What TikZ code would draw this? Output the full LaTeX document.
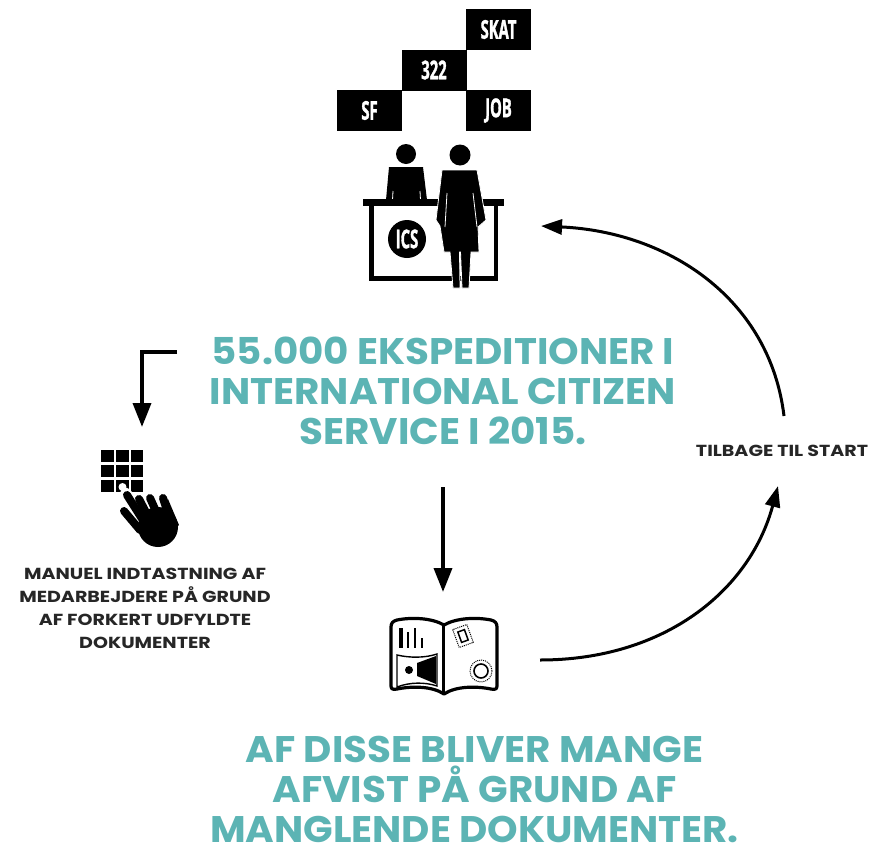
\documentclass[tikz,border=0pt]{standalone}
\usepackage{fontspec}
\setmainfont{Poppins}
\newfontfamily\headfont[FakeStretch=1.05]{Poppins}
\newfontfamily\labelfont[FakeStretch=1.19]{Poppins}
\newfontfamily\narrowfont[FakeStretch=0.57,BoldFeatures={FakeBold=1.2}]{Open Sans}
\usetikzlibrary{arrows.meta}
\definecolor{headteal}{HTML}{5CB4B4}
\tikzset{
  headline/.style={text=headteal,align=center,inner sep=0pt,font=\headfont\fontsize{37}{40}\selectfont\bfseries},
  smalllabel/.style={align=center,inner sep=0pt,text=black!85,font=\labelfont\fontsize{16}{23}\selectfont\bfseries},
  office/.style={fill=black,text=white,inner sep=0pt,minimum width=65pt,minimum height=41pt,font=\narrowfont\fontsize{26}{28}\selectfont\bfseries},
  flow/.style={line width=3.6pt,-{Triangle[width=18pt,length=24pt]}},
  thinflow/.style={line width=3pt,-{Triangle[width=15pt,length=21pt]}}
}
\begin{document}
\begin{tikzpicture}
    [x=1pt,y=-1pt]
    \useasboundingbox (0,0) rectangle (869,846);
    % offices
    \node (skat) at (498.5,29.5) [office] {SKAT};
    \node (nr322) at (434,70) [office] {322};
    \node (sf) at (369.5,110.5) [office] {SF};
    \node (job) at (498.5,110.5) [office] {JOB};
    % desk with clerk and citizen
    \fill (406,154) circle (10pt);
    \fill (389,167) -- (423,167) -- (427,200) -- (386,200) -- cycle;
    \draw [white,line width=.8pt] (393,191) -- (392.5,200) (420,191) -- (420.5,200);
    \fill (363,199) rectangle (504,206);
    \draw [line width=4.5pt] (371.5,206) -- (371.5,278.5) -- (496,278.5) -- (496,206);
    \node (ics) at (407,239) [circle,fill=black,text=white,inner sep=0pt,minimum size=38pt,font=\narrowfont\fontsize{26}{28}\selectfont\bfseries] {ICS};
    \fill (460,155) circle (10.5pt);
    \fill [draw=white,line width=.8pt] (442,170) -- (477,170) -- (486,220) -- (478,227) -- (479,252)
      -- (471,252) -- (469,288) -- (462,288) -- (460.5,252) -- (459.5,252) -- (460,288) -- (453,288) -- (450,252)
      -- (444,252) -- (440,226) -- (436,220) -- cycle;
    \draw [white,line width=.8pt] (447,193) -- (445,227) (473,193) -- (477,227);
    % headlines
    \node (ekspeditioner) at (443,391) [headline] {55.000 EKSPEDITIONER I\\INTERNATIONAL CITIZEN\\SERVICE I 2015.};
    \node (afvist) at (474.5,789) [headline] {AF DISSE BLIVER MANGE\\AFVIST PÅ GRUND AF\\MANGLENDE DOKUMENTER.};
    \node (manuel) at (145,608) [smalllabel] {MANUEL INDTASTNING AF\\MEDARBEJDERE PÅ GRUND\\AF FORKERT UDFYLDTE\\DOKUMENTER};
    \node (tilbage) at (782,451) [smalllabel] {TILBAGE TIL START};
    % keypad
    \foreach \kx in {101.3,116.3,131}
      \foreach \ky in {450,465,480}
        \fill (\kx,\ky) rectangle +(12.2,12);
    \fill [white] (122.5,487) circle (4pt);
    % hand
    \draw [white,line width=12pt,line cap=round] (126,494) -- (146,525);
    \draw [line width=8pt,line cap=round] (127,495) -- (146,525);
    \draw [line width=8pt,line cap=round] (139,499) -- (150,520);
    \draw [line width=8pt,line cap=round] (150,498) -- (160,520);
    \draw [line width=8pt,line cap=round] (163,498) -- (170,520);
    \draw [line width=8pt,line cap=round] (124,511) -- (140,530);
    \fill (143,515) -- (150,512) -- (165,510) -- (168,499) -- (179,525) -- (158,545) -- cycle;
    \fill (158,527) circle (20pt);
    % book
    \draw [line width=3.2pt,fill=white,line join=round] (444,625) .. controls (432,618) and (412,617) .. (397,620)
      .. controls (393,621) and (391,623) .. (391,627) -- (391,686) .. controls (391,689) and (393,690) .. (397,689)
      .. controls (412,686) and (432,686) .. (444,694) .. controls (456,686) and (476,686) .. (491,689)
      .. controls (495,690) and (497,689) .. (497,686) -- (497,627) .. controls (497,623) and (495,621) .. (491,620)
      .. controls (476,617) and (456,618) .. (444,625) -- cycle;
    \draw [line width=3.2pt] (443.5,625) -- (443.5,693);
    \draw [line width=4pt] (401,628) -- (401,648);
    \draw [line width=2.4pt] (408,632) -- (408,648);
    \draw [line width=1.8pt] (415,628) -- (415,648);
    \draw [line width=2.2pt] (422,638) -- (422,648);
    \draw [line width=1.4pt] (397,655) .. controls (410,658) and (425,658) .. (437,654)
      -- (437,686) .. controls (425,682) and (410,682) .. (397,687) -- cycle;
    \fill (409,670) circle (4pt);
    \fill (417,663) -- (436,656) -- (436,684) -- (417,676) -- cycle;
    \begin{scope}[shift={(463,636)},rotate=20]
      \draw [line width=1pt,densely dotted] (-7.5,-9.5) rectangle (7.5,9.5);
      \draw [line width=1.5pt] (-3.5,-5.5) rectangle (3.5,5.5);
    \end{scope}
    \draw [line width=1pt,densely dotted] (481,671) circle (11pt);
    \draw [line width=1.6pt] (481,671) circle (7pt);
    % connectors
    \coordinate (branchstart) at (177,352);
    \coordinate (branchcorner) at (142,352);
    \coordinate (branchend) at (142,427);
    \coordinate (downstart) at (443,487);
    \coordinate (downend) at (443,592);
    \coordinate (bookout) at (540,660);
    \coordinate (startin) at (778,486);
    \coordinate (startout) at (784,416);
    \coordinate (deskin) at (541,226);
    \draw [flow] (branchstart) -- (branchcorner) -- (branchend);
    \draw [flow] (downstart) to (downend);
    \draw [thinflow] (bookout) .. controls (665,660) and (750,590) .. (startin);
    \draw [thinflow] (startout) .. controls (770,300) and (670,232) .. (deskin);
\end{tikzpicture}
\end{document}
